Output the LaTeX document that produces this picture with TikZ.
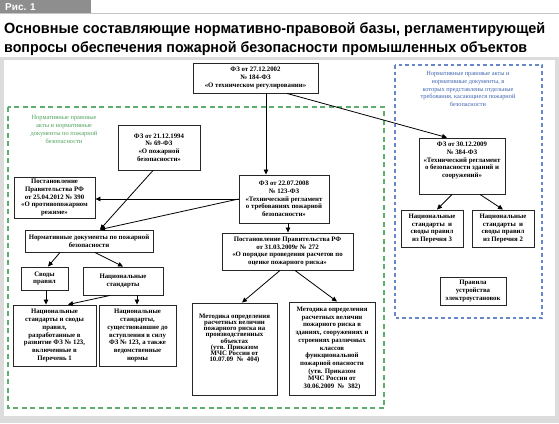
\documentclass[tikz,border=0pt]{standalone}
\usepackage{fontspec}
\setmainfont{Liberation Serif}
\newfontfamily\titlefont{Liberation Sans}
\usetikzlibrary{arrows.meta}
\definecolor{frameg}{HTML}{DCDCDC}
\definecolor{lineg}{HTML}{C4C4C4}
\definecolor{tabg}{HTML}{8E8E8E}
\definecolor{lblgreen}{HTML}{4FA35F}
\definecolor{lblblue}{HTML}{3D62B0}
\definecolor{dashgreen}{HTML}{5DAE6E}
\definecolor{dashblue}{HTML}{6688C8}
\begin{document}
\begin{tikzpicture}[x=1pt,y=-1pt,
  box/.style={draw=black!85, line width=0.9pt, fill=white, align=center, inner sep=0pt,
    font=\fontsize{6.8}{7.7}\selectfont\bfseries},
  boxtext/.style={align=center, inner sep=0pt, font=\fontsize{6.8}{7.7}\selectfont\bfseries},
  arr/.style={line width=0.8pt, -{Triangle[length=5pt,width=4.5pt]}},
  lbl/.style={align=center, inner sep=0pt},
  ]
\useasboundingbox (0,0) rectangle (559,423);
% header
\fill[lineg] (0,12.5) rectangle (559,14);
\fill[tabg] (0,0) rectangle (91,13);
\node[anchor=base west, inner sep=0pt, text=white, font=\titlefont\bfseries\fontsize{10}{12}\selectfont] (fig) at (5,10.5) {Рис. 1};
\node[anchor=base west, inner sep=0pt] (title1) at (4,33)
  {\resizebox{541pt}{11pt}{\titlefont\bfseries Основные составляющие нормативно-правовой базы, регламентирующей}};
\node[anchor=base west, inner sep=0pt] (title2) at (4,52.5)
  {\resizebox{523pt}{11pt}{\titlefont\bfseries вопросы обеспечения пожарной безопасности промышленных объектов}};
% frame
\fill[frameg] (0,57) rectangle (559,423);
\fill[white] (4,60) rectangle (555,416);
% dashed groups
\draw[dashgreen, line width=1.2pt, dash pattern=on 5pt off 3.5pt] (8,107) rectangle (384,408);
\draw[dashblue, line width=1.1pt, dash pattern=on 3.5pt off 3pt] (395,65) rectangle (542,318);
\node[lbl, text=lblgreen, font=\fontsize{6.4}{8.2}\selectfont] (lblg) at (64,129.5)
  {Нормативные правовые\\акты и нормативные\\документы по пожарной\\безопасности};
\node[lbl, text=lblblue, font=\fontsize{6.3}{7.7}\selectfont] (lblb) at (468,89)
  {Нормативные правовые акты и\\нормативные документы, в\\которых представлены отдельные\\требования, касающиеся пожарной\\безопасности};
% boxes
\node[box, minimum width=125pt, minimum height=30pt] (fz184) at (255.5,78)
  {ФЗ от 27.12.2002\\№ 184-ФЗ\\«О техническом регулировании»};
\node[box, minimum width=82pt, minimum height=45pt] (fz69) at (159,147.5)
  {ФЗ от 21.12.1994\\№ 69-ФЗ\\«О пожарной\\безопасности»};
\node[box, minimum width=90pt, minimum height=48pt] (fz123) at (284,199)
  {ФЗ от 22.07.2008\\№ 123-ФЗ\\«Технический регламент\\о требованиях пожарной\\безопасности»};
\node[box, minimum width=81pt, minimum height=41pt] (post390) at (54.5,197.5)
  {Постановление\\Правительства РФ\\от 25.04.2012 № 390\\«О противопожарном\\режиме»};
\node[box, minimum width=128pt, minimum height=22pt] (normdocs) at (89,241)
  {Нормативные документы по пожарной\\безопасности};
\node[box, minimum width=47pt, minimum height=23pt] (svody) at (44.5,278.5)
  {Своды\\правил};
\node[box, minimum width=80pt, minimum height=28pt] (natstd) at (123,281)
  {Национальные\\стандарты};
\node[box, minimum width=83pt, minimum height=61pt] (natstd1) at (54.5,335.5)
  {Национальные\\стандарты и своды\\правил,\\разработанные в\\развитие ФЗ № 123,\\включенные в\\Перечень 1};
\node[box, minimum width=77pt, minimum height=61pt] (natstdold) at (137.5,335.5)
  {Национальные\\стандарты,\\существовавшие до\\вступления в силу\\ФЗ № 123, а также\\ведомственные\\нормы};
\node[box, minimum width=131pt, minimum height=37pt] (post272) at (287.5,251.5)
  {Постановление Правительства РФ\\от 31.03.2009г № 272\\«О порядке проведения расчетов по\\оценке пожарного риска»};
\node[box, minimum width=85pt, minimum height=92pt] (m404) at (234.5,349) {};
\node[boxtext, font=\fontsize{6.8}{6.1}\selectfont\bfseries] (m404t) at (234.5,338.5)
  {Методика определения\\расчетных величин\\пожарного риска на\\производственных\\объектах\\(утв. Приказом\\МЧС России от\\10.07.09~~№~~404)};
\node[box, minimum width=86pt, minimum height=93pt] (m382) at (332,348.5)
  {Методика определения\\расчетных величин\\пожарного риска в\\зданиях, сооружениях и\\строениях различных\\классов\\функциональной\\пожарной опасности\\(утв. Приказом\\МЧС России от\\30.06.2009~~№~~382)};
\node[box, minimum width=86pt, minimum height=56pt] (fz384) at (462,166) {};
\node[boxtext] (fz384t) at (462,160.5)
  {ФЗ от 30.12.2009\\№ 384-ФЗ\\«Технический регламент\\о безопасности зданий и\\сооружений»};
\node[box, minimum width=62pt, minimum height=37pt] (ns3) at (432,228.5)
  {Национальные\\стандарты~~и\\своды правил\\из Перечня 3};
\node[box, minimum width=62pt, minimum height=37pt] (ns2) at (503,228.5)
  {Национальные\\стандарты~~и\\своды правил\\из Перечня 2};
\node[box, minimum width=66pt, minimum height=28pt] (rules) at (473,291)
  {Правила\\устройства\\электроустановок};
% connectors
\draw[arr] ([xshift=10.5pt]fz184.south) -- ([xshift=10.5pt]fz184.south |- fz123.north);
\draw[arr] ([xshift=31.5pt]fz184.south) -- ([xshift=-15pt]fz384.north);
\draw[arr] ([xshift=-6pt]fz69.south) -- ([xshift=11pt]normdocs.north);
\draw[arr] (fz123.west) -- (fz123.west -| post390.east);
\draw[arr] (fz123.west) -- ([xshift=11pt]normdocs.north);
\draw[arr] ([xshift=4pt]fz123.south) -- ([xshift=4pt]fz123.south |- post272.north);
\draw[arr] ([xshift=-7.5pt]post272.south) -- ([xshift=7.5pt]m404.north);
\draw[arr] ([xshift=7.5pt]post272.south) -- ([xshift=5pt]m382.north);
\draw[arr] ([xshift=-29pt]normdocs.south) -- ([xshift=3.5pt]svody.north);
\draw[arr] ([xshift=6pt]normdocs.south) -- (natstd.north);
\draw[arr] ([xshift=1.5pt]svody.south) -- ([xshift=1.5pt]svody.south |- natstd1.north);
\draw[arr] ([xshift=-13pt]natstd.south) -- ([xshift=13.5pt]natstd1.north);
\draw[arr] ([xshift=14pt]natstd.south) -- ([xshift=14pt]natstd.south |- natstdold.north);
\draw[arr] ([xshift=-10pt]fz384.south) -- ([xshift=5pt]ns3.north);
\draw[arr] ([xshift=18pt]fz384.south) -- (ns2.north);
\end{tikzpicture}
\end{document}
